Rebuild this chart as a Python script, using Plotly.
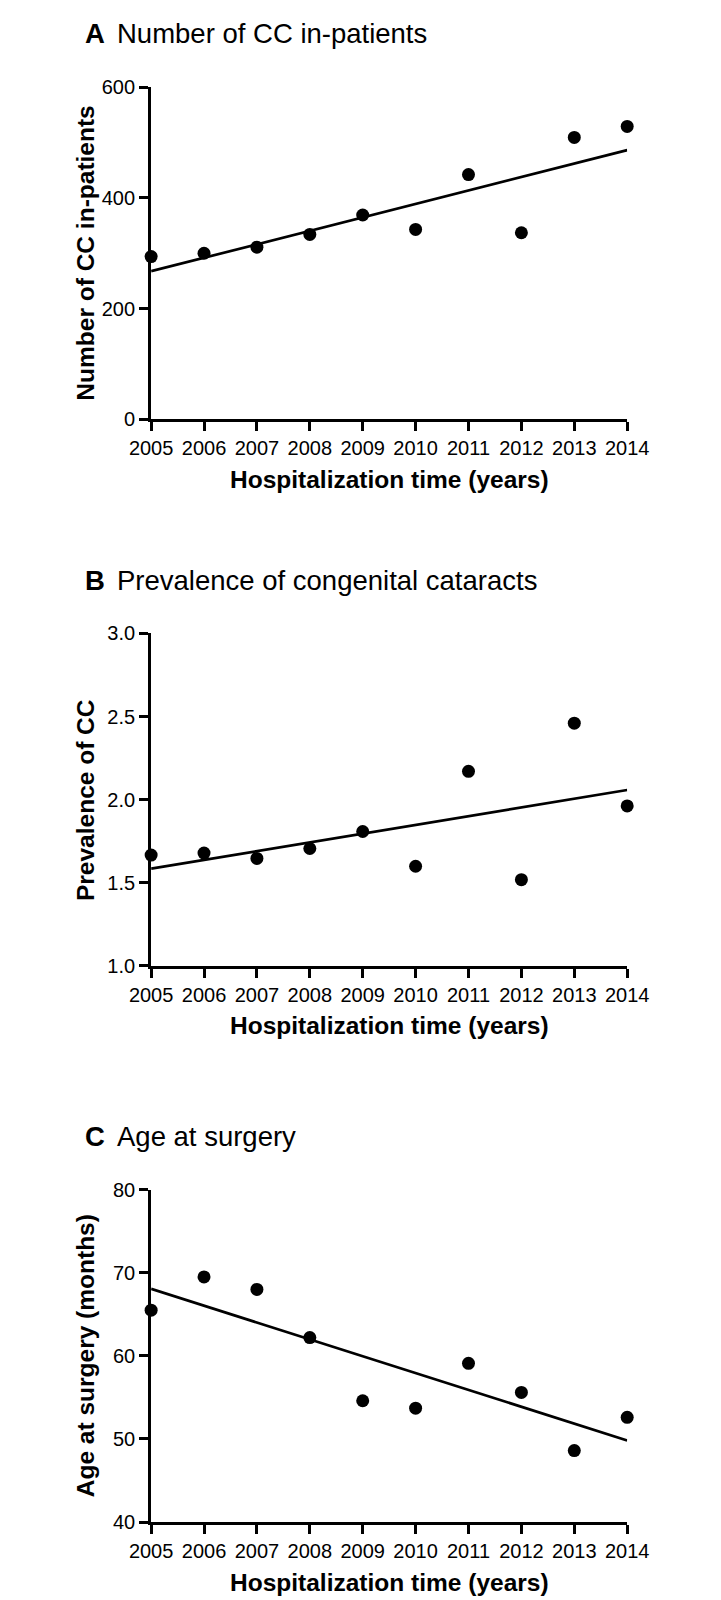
import numpy as np
import plotly.graph_objects as go

# ---- data ----
years = [2005, 2006, 2007, 2008, 2009, 2010, 2011, 2012, 2013, 2014]
inpatients = [294, 300, 311, 334, 369, 343, 442, 337, 509, 529]
prevalence = [1.666, 1.678, 1.646, 1.706, 1.808, 1.599, 2.170, 1.518, 2.460, 1.962]
age_months = [65.5, 69.5, 68.0, 62.2, 54.6, 53.7, 59.1, 55.6, 48.6, 52.6]

panel_letters = ["A", "B", "C"]
panel_titles = ["Number of CC in-patients", "Prevalence of congenital cataracts", "Age at surgery"]
y_titles = ["Number of CC in-patients", "Prevalence of CC", "Age at surgery (months)"]
x_title = "Hospitalization time (years)"
y_ranges = [[0, 600], [1.0, 3.0], [40, 80]]
y_dticks = [200, 0.5, 10]
y_formats = ["d", ".1f", "d"]
series = [inpatients, prevalence, age_months]

W, H = 721, 1600
FONT = "Liberation Sans, Arial, Helvetica, sans-serif"

# pixel geometry of each panel (left, right, top, bottom)
x_left, x_right = 129, 636
tops = [69, 623, 1187]
bottoms = [406, 960, 1524]

fig = go.Figure()
annotations = []

for i in range(3):
    n = "" if i == 0 else str(i + 1)
    xa, ya = "x" + n, "y" + n
    vals = series[i]
    # linear regression trend line
    slope, intercept = np.polyfit(years, vals, 1)
    xf = [years[0], years[-1]]
    yf = [slope * v + intercept for v in xf]
    fig.add_trace(go.Scatter(x=xf, y=yf, mode="lines", xaxis=xa, yaxis=ya,
                             line=dict(color="black", width=2.7), showlegend=False,
                             cliponaxis=False))
    fig.add_trace(go.Scatter(x=years, y=vals, mode="markers", xaxis=xa, yaxis=ya,
                             marker=dict(color="black", size=13), showlegend=False,
                             cliponaxis=False))

    ydom = [1 - bottoms[i] / H, 1 - tops[i] / H]
    common = dict(showgrid=False, zeroline=False, showline=True, linecolor="black",
                  linewidth=3, ticks="outside", ticklen=9, tickwidth=3, tickcolor="black",
                  tickfont=dict(family=FONT, size=20, color="black"))
    fig.update_layout(**{
        "xaxis" + n: dict(domain=[x_left / W, x_right / W], anchor=ya,
                          range=[years[0], years[-1]], dtick=1, tick0=years[0], **common),
        "yaxis" + n: dict(domain=ydom, anchor=xa, range=y_ranges[i], dtick=y_dticks[i],
                          tickformat=y_formats[i], **common),
    })

    # panel title
    ty = 1 - (tops[i] - 54) / H
    annotations.append(dict(x=56 / W, y=ty, xref="paper", yref="paper", xanchor="left",
                            yanchor="middle", showarrow=False, text="<b>" + panel_letters[i] + "</b>",
                            font=dict(family=FONT, size=27.5, color="black")))
    annotations.append(dict(x=91 / W, y=ty, xref="paper", yref="paper", xanchor="left",
                            yanchor="middle", showarrow=False, text=panel_titles[i],
                            font=dict(family=FONT, size=27.5, color="black")))
    # y-axis title
    annotations.append(dict(x=59 / W, y=1 - (tops[i] + bottoms[i]) / 2 / H, xref="paper", yref="paper",
                            xanchor="center", yanchor="middle", showarrow=False, textangle=-90,
                            text="<b>" + y_titles[i] + "</b>",
                            font=dict(family=FONT, size=24.5, color="black")))
    # x-axis title
    annotations.append(dict(x=(x_left + x_right) / 2 / W, y=1 - (bottoms[i] + 61) / H, xref="paper",
                            yref="paper", xanchor="center", yanchor="middle", showarrow=False,
                            text="<b>" + x_title + "</b>",
                            font=dict(family=FONT, size=24.5, color="black")))

fig.update_layout(width=W, height=H, margin=dict(l=0, r=0, t=0, b=0),
                  paper_bgcolor="white", plot_bgcolor="white",
                  annotations=annotations, showlegend=False)

fig.write_html("out.html")
